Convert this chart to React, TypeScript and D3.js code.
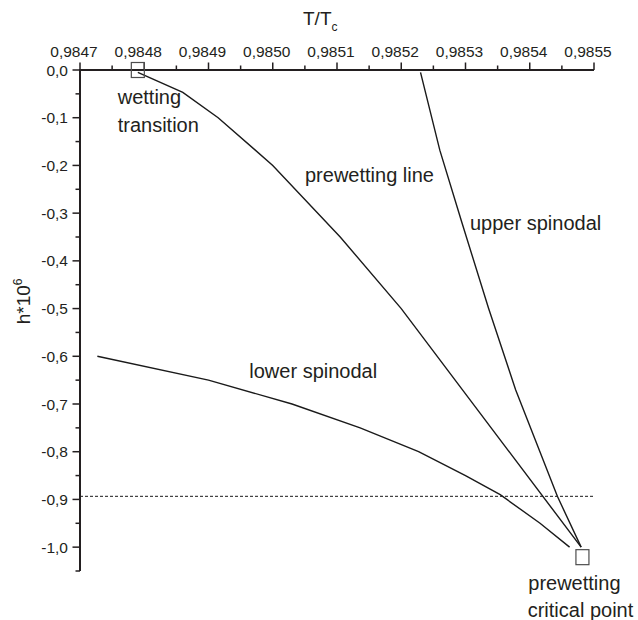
import React from "react";
import * as d3 from "d3";

// ---- data (T/Tc, h*10^6) ----
const prewettingT = [0.98479, 0.98486, 0.984915, 0.985, 0.985105, 0.9852, 0.98548];
const prewettingH = [-0.005, -0.047, -0.1, -0.2, -0.35, -0.5, -1.0];

const upperT = [0.98523, 0.98526, 0.985294, 0.985336, 0.985378, 0.985443, 0.98548];
const upperH = [-0.005, -0.168, -0.318, -0.5, -0.67, -0.8935, -1.0];

const lowerT = [0.984727, 0.9849, 0.98503, 0.985136, 0.985227, 0.9853, 0.985354, 0.985416, 0.985462];
const lowerH = [-0.6, -0.65, -0.7, -0.75, -0.8, -0.85, -0.89, -0.95, -1.0];

const dashedH = -0.8935;

const markerT = [0.98479, 0.985482];
const markerH = [0, -1.021];

const xMajorTicks = [0.9847, 0.9848, 0.9849, 0.985, 0.9851, 0.9852, 0.9853, 0.9854, 0.9855];
const xMinorTicks = [0.98475, 0.98485, 0.98495, 0.98505, 0.98515, 0.98525, 0.98535, 0.98545];
const yMajorTicks = [0, -0.1, -0.2, -0.3, -0.4, -0.5, -0.6, -0.7, -0.8, -0.9, -1.0];
const yMinorTicks = [-0.05, -0.15, -0.25, -0.35, -0.45, -0.55, -0.65, -0.75, -0.85, -0.95, -1.05];

const annotations = [
  { text: "wetting", t: 0.9847587, h: -0.0713 },
  { text: "transition", t: 0.9847587, h: -0.1293 },
  { text: "prewetting line", t: 0.9850502, h: -0.2354 },
  { text: "upper spinodal", t: 0.985307, h: -0.3353 },
  { text: "lower spinodal", t: 0.9849635, h: -0.6449 },
  { text: "prewetting", t: 0.9853977, h: -1.0898 },
  { text: "critical point", t: 0.9853968, h: -1.1458 },
];

const FONT = "'Liberation Sans', Arial, Helvetica, sans-serif";
const TEXT = "#231f20";

const locale = d3.formatLocale({
  decimal: ",",
  thousands: ".",
  grouping: [3],
  currency: ["", ""],
  minus: "-",
});
const fx = locale.format(".4f");
const fy = locale.format(".1f");

export default function App() {
  const x = d3.scaleLinear().domain([0.9847, 0.9855]).range([80, 594]);
  const y = d3.scaleLinear().domain([0, -1.05]).range([70, 571]);

  const line = d3
    .line<[number, number]>()
    .x((d) => x(d[0]))
    .y((d) => y(d[1]));

  const series = [
    d3.zip(prewettingT, prewettingH) as [number, number][],
    d3.zip(upperT, upperH) as [number, number][],
    d3.zip(lowerT, lowerH) as [number, number][],
  ];

  const [x0, x1] = x.range();
  const [y0, y1] = y.range();

  return (
    <svg
      width={638}
      height={620}
      style={{ position: "absolute", left: 0, top: 0, background: "#fff" }}
      fontFamily={FONT}
    >
      {/* dashed reference line */}
      <line
        x1={x0}
        x2={x1}
        y1={y(dashedH)}
        y2={y(dashedH)}
        stroke="#1a1a1a"
        strokeWidth={1}
        strokeDasharray="3,2"
      />

      {/* curves */}
      {series.map((s, i) => (
        <path key={i} d={line(s) || ""} fill="none" stroke="#1a1a1a" strokeWidth={1.4} />
      ))}

      {/* top axis */}
      <line x1={x0} x2={x1} y1={y0} y2={y0} stroke="#231f20" strokeWidth={2} />
      {xMajorTicks.map((t) => (
        <line key={"xM" + t} x1={x(t)} x2={x(t)} y1={y0} y2={y0 - 7.5} stroke="#231f20" strokeWidth={1.5} />
      ))}
      {xMinorTicks.map((t) => (
        <line key={"xm" + t} x1={x(t)} x2={x(t)} y1={y0} y2={y0 - 4.5} stroke="#231f20" strokeWidth={1.5} />
      ))}
      {xMajorTicks.map((t) => (
        <text key={"xl" + t} x={x(t) - 6} y={57} textAnchor="middle" fontSize={15.5} fill={TEXT}>
          {fx(t)}
        </text>
      ))}

      {/* left axis */}
      <line x1={x0} x2={x0} y1={y0 - 1} y2={y1} stroke="#231f20" strokeWidth={2} />
      {yMajorTicks.map((h) => (
        <line key={"yM" + h} x1={x0} x2={x0 - 7.5} y1={y(h)} y2={y(h)} stroke="#231f20" strokeWidth={1.5} />
      ))}
      {yMinorTicks.map((h) => (
        <line key={"ym" + h} x1={x0} x2={x0 - 4.5} y1={y(h)} y2={y(h)} stroke="#231f20" strokeWidth={1.5} />
      ))}
      {yMajorTicks.map((h) => (
        <text key={"yl" + h} x={68} y={y(h) + 5.5} textAnchor="end" fontSize={15.5} fill={TEXT}>
          {fy(h)}
        </text>
      ))}

      {/* axis titles */}
      <text x={303} y={25} fontSize={19} fill={TEXT}>
        T/T
        <tspan fontSize={12} dy={6}>c</tspan>
      </text>
      <text
        transform={`translate(29.5, ${y(-0.485)}) rotate(-90)`}
        textAnchor="middle"
        fontSize={19}
        fill={TEXT}
      >
        h*10
        <tspan fontSize={12} dy={-8}>6</tspan>
      </text>

      {/* markers */}
      {markerT.map((t, i) => (
        <rect
          key={"mk" + i}
          x={x(t) - 6.5}
          y={y(markerH[i]) - 7.5}
          width={13}
          height={15}
          fill="none"
          stroke="#4d4d4d"
          strokeWidth={1.2}
        />
      ))}

      {/* annotations */}
      {annotations.map((a) => (
        <text key={a.text} x={x(a.t)} y={y(a.h)} fontSize={20} fill={TEXT}>
          {a.text}
        </text>
      ))}
    </svg>
  );
}
